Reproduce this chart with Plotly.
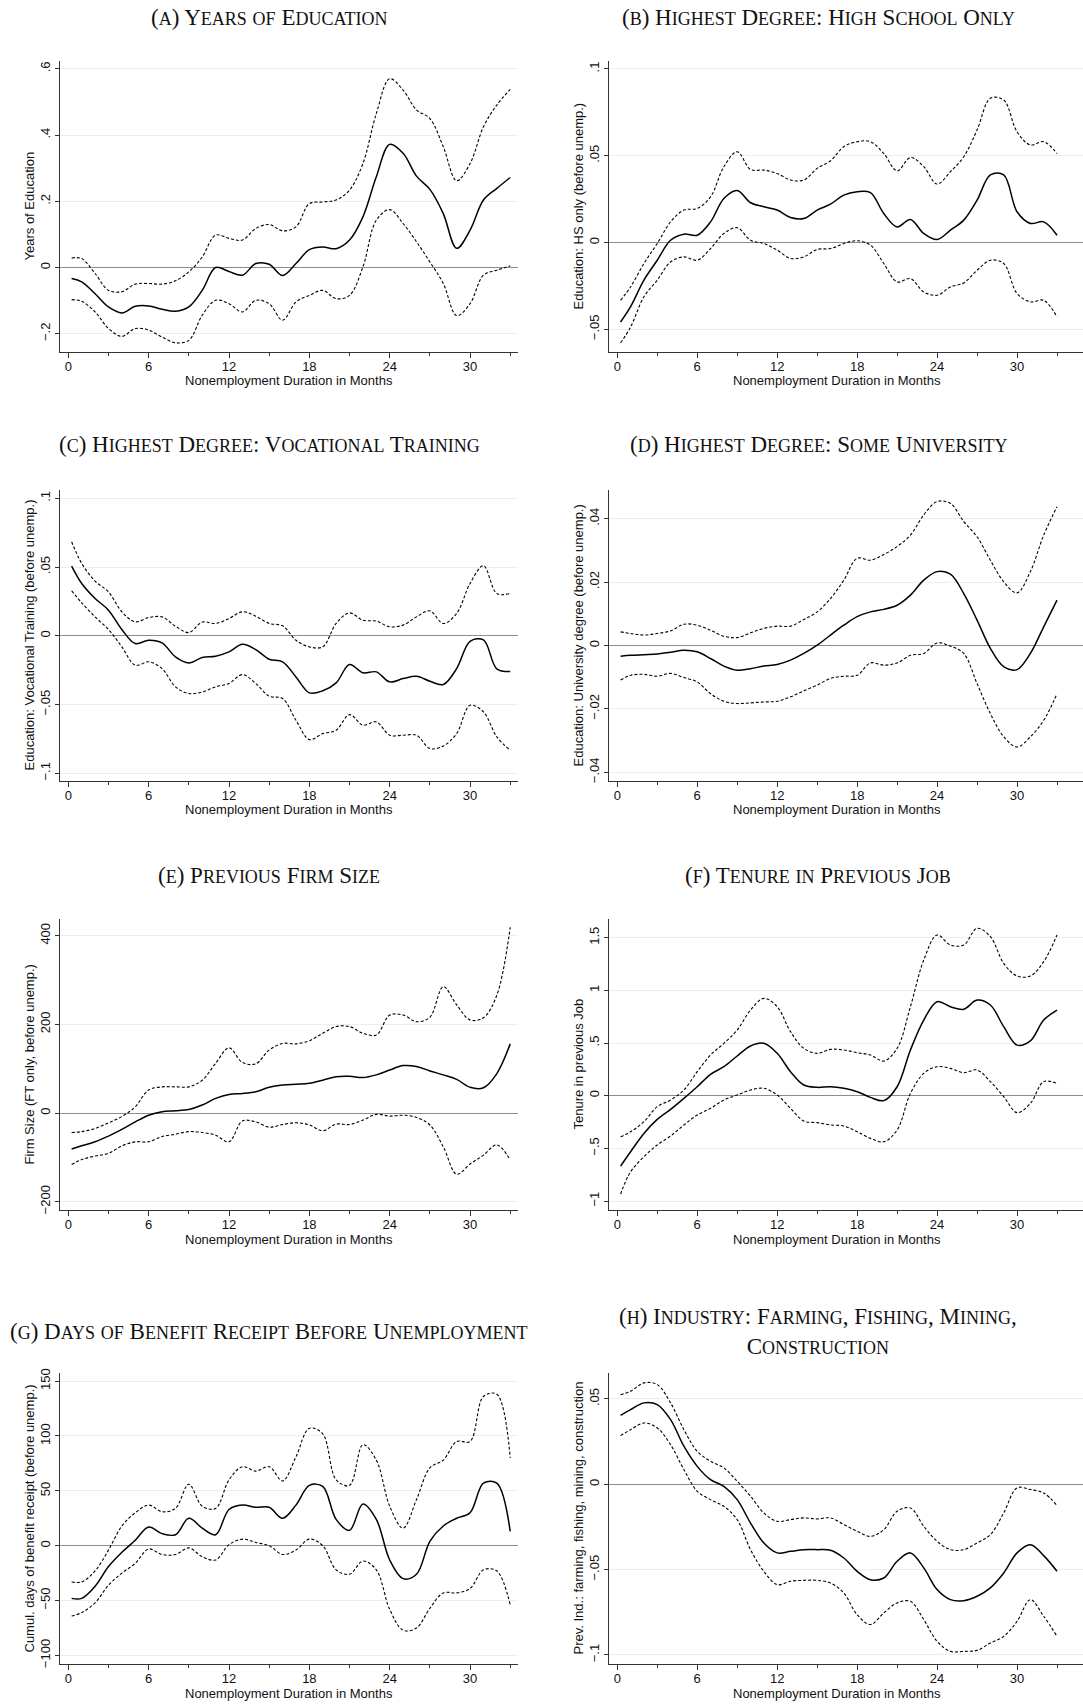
import plotly.graph_objects as go

# months at which the smoothed estimates are read
MONTHS = [0.25, 1, 2, 3, 4, 5, 6, 7, 8, 9, 10, 11, 12, 13, 14, 15, 16, 17,
          18, 19, 20, 21, 22, 23, 24, 25, 26, 27, 28, 29, 30, 31, 32, 33]
X_TICKS = [0, 6, 12, 18, 24, 30]

# (a) years of education
A_EST = [-0.033, -0.043, -0.079, -0.119, -0.137, -0.117, -0.116, -0.126, -0.132, -0.119, -0.069, 0.000,
         -0.012, -0.023, 0.012, 0.010, -0.024, 0.012, 0.054, 0.062, 0.057, 0.083, 0.153, 0.274, 0.372,
         0.345, 0.276, 0.236, 0.163, 0.058, 0.113, 0.204, 0.239, 0.272]
A_UP = [0.029, 0.027, -0.018, -0.069, -0.073, -0.050, -0.048, -0.050, -0.040, -0.013, 0.032, 0.098,
        0.088, 0.083, 0.118, 0.130, 0.111, 0.123, 0.193, 0.198, 0.204, 0.234, 0.314, 0.465, 0.570,
        0.536, 0.476, 0.450, 0.365, 0.262, 0.314, 0.425, 0.491, 0.538]
A_LO = [-0.097, -0.102, -0.134, -0.184, -0.208, -0.184, -0.189, -0.210, -0.227, -0.220, -0.144, -0.099,
        -0.109, -0.134, -0.099, -0.109, -0.159, -0.104, -0.084, -0.069, -0.094, -0.084, 0.002, 0.143,
        0.175, 0.133, 0.078, 0.017, -0.048, -0.145, -0.109, -0.023, -0.008, 0.005]

# (b) high school only
B_EST = [-0.0458, -0.037, -0.0217, -0.0102, 0.0013, 0.0048, 0.0042, 0.0119, 0.0254, 0.030, 0.0229, 0.0206,
         0.0187, 0.0144, 0.0138, 0.0187, 0.0221, 0.0273, 0.0292, 0.0287, 0.0167, 0.009, 0.0133, 0.0052,
         0.0017, 0.0071, 0.0129, 0.0244, 0.039, 0.039, 0.0177, 0.011, 0.0119, 0.0042]
B_UP = [-0.0333, -0.0256, -0.0121, -0.0006, 0.0119, 0.0187, 0.0196, 0.0263, 0.0437, 0.0523, 0.0421, 0.0417,
        0.0398, 0.036, 0.036, 0.0427, 0.0471, 0.0552, 0.0581, 0.0581, 0.0513, 0.0413, 0.049, 0.0437,
        0.0337, 0.0408, 0.0494, 0.0648, 0.0831, 0.0821, 0.0638, 0.0562, 0.0581, 0.0513]
B_LO = [-0.0579, -0.0487, -0.0313, -0.0217, -0.0112, -0.0083, -0.0102, -0.0035, 0.0052, 0.0085, 0.0013,
        -0.0006, -0.0044, -0.0092, -0.0083, -0.004, -0.0035, -0.0006, 0.001, -0.0015, -0.0121, -0.0227,
        -0.0208, -0.0285, -0.0304, -0.0256, -0.0233, -0.016, -0.0102, -0.0121, -0.0294, -0.0342, -0.0333,
        -0.0429]

# (c) vocational training
C_EST = [0.0507, 0.0381, 0.0272, 0.0187, 0.0046, -0.0056, -0.0032, -0.0051, -0.0153, -0.0197, -0.0158,
         -0.0148, -0.0117, -0.0061, -0.01, -0.017, -0.0189, -0.0299, -0.0415, -0.04, -0.0342, -0.0209,
         -0.0269, -0.0262, -0.0335, -0.0311, -0.0294, -0.033, -0.0354, -0.0238, -0.004, -0.003, -0.024,
         -0.026]
C_UP = [0.0684, 0.0527, 0.0398, 0.032, 0.0175, 0.0102, 0.0133, 0.0138, 0.007, 0.0024, 0.01, 0.009, 0.0126,
        0.0175, 0.0143, 0.009, 0.0073, -0.0032, -0.008, -0.008, 0.009, 0.0167, 0.0114, 0.0107, 0.0066,
        0.0078, 0.0138, 0.0182, 0.009, 0.0163, 0.0381, 0.051, 0.0308, 0.0308]
C_LO = [0.0328, 0.024, 0.0138, 0.0046, -0.008, -0.0214, -0.0189, -0.0238, -0.0371, -0.042, -0.0408,
        -0.0371, -0.0347, -0.0282, -0.0347, -0.0439, -0.0456, -0.0614, -0.0755, -0.0711, -0.0687, -0.0573,
        -0.065, -0.0626, -0.0723, -0.0723, -0.0723, -0.082, -0.0801, -0.0711, -0.0505, -0.0553, -0.0735,
        -0.0833]

# (d) some university
D_EST = [-0.0034, -0.0031, -0.0029, -0.0027, -0.0021, -0.0015, -0.002, -0.0041, -0.0065, -0.0078, -0.0073,
         -0.0065, -0.006, -0.0046, -0.0025, 0.0001, 0.0033, 0.0064, 0.0091, 0.0106, 0.0114, 0.0127, 0.0159,
         0.0206, 0.0233, 0.0225, 0.0164, 0.008, -0.0009, -0.0067, -0.0076, -0.0025, 0.0059, 0.0143]
D_UP = [0.0043, 0.0038, 0.0033, 0.0038, 0.0046, 0.0067, 0.0064, 0.0048, 0.0029, 0.0025, 0.004, 0.0054,
        0.0061, 0.0061, 0.0082, 0.0106, 0.0148, 0.0206, 0.0275, 0.0269, 0.0287, 0.0312, 0.0348, 0.0412,
        0.0454, 0.0448, 0.0391, 0.0343, 0.0269, 0.0201, 0.0166, 0.0233, 0.0348, 0.0438]
D_LO = [-0.0109, -0.0094, -0.0091, -0.0097, -0.0088, -0.0101, -0.0115, -0.0152, -0.0176, -0.0183, -0.0181,
        -0.0178, -0.0176, -0.0162, -0.0143, -0.0125, -0.0104, -0.0097, -0.0094, -0.0055, -0.0062, -0.0055,
        -0.0031, -0.0025, 0.0008, -0.0002, -0.0025, -0.012, -0.0215, -0.0288, -0.032, -0.0288, -0.0236,
        -0.0152]

# (e) previous firm size
E_EST = [-81, -74, -65, -52, -37, -20, -5, 3, 5, 8, 18, 33, 42, 44, 48, 58, 63, 65, 67, 74, 82, 83, 80,
         86, 97, 107, 105, 95, 86, 76, 58, 57, 89, 156]
E_UP = [-44, -42, -35, -22, -8, 14, 52, 59, 59, 59, 74, 112, 147, 114, 111, 142, 157, 156, 163, 180, 195,
        195, 180, 176, 221, 221, 206, 216, 285, 244, 210, 215, 266, 419]
E_LO = [-116, -105, -97, -91, -74, -65, -65, -53, -48, -42, -44, -50, -65, -18, -20, -32, -26, -22, -27,
        -40, -25, -26, -16, -3, -7, -5, -10, -27, -76, -138, -115, -95, -72, -106]

# (f) tenure in previous job
F_EST = [-0.668, -0.532, -0.358, -0.225, -0.130, -0.025, 0.085, 0.203, 0.275, 0.377, 0.472, 0.497, 0.402,
         0.228, 0.101, 0.079, 0.085, 0.070, 0.038, -0.016, -0.047, 0.085, 0.434, 0.718, 0.892, 0.845,
         0.820, 0.908, 0.861, 0.655, 0.480, 0.520, 0.718, 0.813]
F_UP = [-0.389, -0.342, -0.247, -0.104, -0.041, 0.054, 0.228, 0.386, 0.497, 0.623, 0.813, 0.924, 0.845,
        0.608, 0.449, 0.402, 0.440, 0.434, 0.408, 0.386, 0.329, 0.449, 0.845, 1.288, 1.525, 1.430, 1.430,
        1.589, 1.509, 1.256, 1.136, 1.136, 1.272, 1.525]
F_LO = [-0.934, -0.722, -0.579, -0.468, -0.383, -0.278, -0.184, -0.120, -0.041, 0.006, 0.054, 0.070, 0.006,
        -0.120, -0.241, -0.256, -0.278, -0.288, -0.342, -0.405, -0.437, -0.326, 0.022, 0.212, 0.275, 0.259,
        0.218, 0.244, 0.133, -0.009, -0.161, -0.073, 0.133, 0.117]

# (g) days of benefit receipt
G_EST = [-48, -48, -37, -19, -6, 5, 17, 11, 10, 25, 16, 10, 33, 37, 35, 35, 25, 37, 55, 54, 24, 14, 38,
         24, -13, -30, -26, 4, 18, 25, 30, 57, 57, 13]
G_UP = [-33, -33, -23, -4, 18, 30, 37, 31, 34, 56, 36, 34, 60, 72, 68, 72, 59, 81, 107, 102, 60, 55, 92,
        78, 36, 16, 42, 71, 78, 95, 95, 136, 138, 80]
G_LO = [-64, -61, -52, -36, -25, -16, -3, -8, -8, -2, -10, -13, 1, 6, 3, 0, -8, -4, 6, 0, -22, -26, -14,
        -22, -58, -77, -75, -57, -43, -43, -39, -22, -23, -54]

# (h) farming, fishing, mining, construction
H_EST = [0.0404, 0.0437, 0.0477, 0.0467, 0.0379, 0.0223, 0.0105, 0.0027, -0.0012, -0.009, -0.0227, -0.0344,
         -0.0402, -0.0393, -0.0383, -0.0383, -0.0387, -0.0432, -0.051, -0.0559, -0.0549, -0.0451, -0.0402,
         -0.049, -0.0617, -0.0676, -0.0682, -0.0656, -0.0607, -0.052, -0.0402, -0.0354, -0.0418, -0.051]
H_UP = [0.0525, 0.0545, 0.0594, 0.0584, 0.0477, 0.032, 0.0193, 0.0135, 0.0096, 0.0018, -0.007, -0.0168,
        -0.0217, -0.0207, -0.0197, -0.0203, -0.0197, -0.0236, -0.0275, -0.0305, -0.0266, -0.0158, -0.0139,
        -0.0246, -0.0334, -0.0383, -0.0383, -0.0344, -0.0295, -0.0168, -0.0021, -0.0031, -0.0051, -0.0125]
H_LO = [0.0285, 0.032, 0.0359, 0.033, 0.0232, 0.0086, -0.0041, -0.009, -0.0129, -0.0207, -0.0383, -0.051,
        -0.0588, -0.0568, -0.0563, -0.0563, -0.0578, -0.0637, -0.0764, -0.0822, -0.0754, -0.0695, -0.0686,
        -0.0793, -0.092, -0.0979, -0.0979, -0.0973, -0.093, -0.0891, -0.0803, -0.0676, -0.0773, -0.0891]

TITLES = ["(a) Years of Education", "(b) Highest Degree: High School Only",
          "(c) Highest Degree: Vocational Training", "(d) Highest Degree: Some University",
          "(e) Previous Firm Size", "(f) Tenure in Previous Job",
          "(g) Days of Benefit Receipt Before Unemployment",
          "(h) Industry: Farming, Fishing, Mining,<br>Construction"]
Y_TITLES = ["Years of Education", "Education: HS only (before unemp.)",
            "Education: Vocational Training (before unemp.)", "Education: University degree (before unemp.)",
            "Firm Size (FT only, before unemp.)", "Tenure in previous Job",
            "Cumul. days of benefit receipt (before unemp.)",
            "Prev. Ind.: farming, fishing, mining, construction"]
Y_TICKS = [[-0.2, 0, 0.2, 0.4, 0.6], [-0.05, 0, 0.05, 0.1], [-0.1, -0.05, 0, 0.05, 0.1],
           [-0.04, -0.02, 0, 0.02, 0.04], [-200, 0, 200, 400], [-1, -0.5, 0, 0.5, 1, 1.5],
           [-100, -50, 0, 50, 100, 150], [-0.1, -0.05, 0, 0.05]]
Y_TICKTEXT = [["\u2212.2", "0", ".2", ".4", ".6"], ["\u2212.05", "0", ".05", ".1"],
              ["\u2212.1", "\u2212.05", "0", ".05", ".1"], ["\u2212.04", "\u2212.02", "0", ".02", ".04"],
              ["\u2212200", "0", "200", "400"], ["\u22121", "\u2212.5", "0", ".5", "1", "1.5"],
              ["\u2212100", "\u221250", "0", "50", "100", "150"], ["\u2212.1", "\u2212.05", "0", ".05"]]
Y_RANGES = [[-0.255, 0.6237], [-0.0631, 0.1046], [-0.1056, 0.1061], [-0.04274, 0.04905],
            [-218.8, 437.7], [-1.085, 1.677], [-107.8, 157.4], [-0.1053, 0.0652]]
SERIES = [(A_EST, A_UP, A_LO), (B_EST, B_UP, B_LO), (C_EST, C_UP, C_LO), (D_EST, D_UP, D_LO),
          (E_EST, E_UP, E_LO), (F_EST, F_UP, F_LO), (G_EST, G_UP, G_LO), (H_EST, H_UP, H_LO)]

W, H = 1083, 1704
# pixel frame of each row: (top, bottom, panel-title y)
ROWS = [(61, 352, 17), (490, 781, 445), (919, 1210, 875), (1373, 1664, 1331)]
# columns: (axis left, axis right, x range, title centre, y-title x, x-title centre)
COLS = [(60, 518, [-0.62, 33.58], 269, 29, 289), (609, 1083, [-0.62, 34.95], 818, 578, 837)]

SANS = "Liberation Sans, Arial, sans-serif"
SERIF = "Liberation Serif, Times New Roman, serif"


def px(p):
    return p / W


def py(p):
    return 1 - p / H


def small_caps(text, small=18):
    out = []
    for line in text.split("<br>"):
        parts, buf = [], ""
        for ch in line:
            if ch.islower():
                buf += ch.upper()
            else:
                if buf:
                    parts.append(f"<span style='font-size:{small}px'>{buf}</span>")
                    buf = ""
                parts.append(ch)
        if buf:
            parts.append(f"<span style='font-size:{small}px'>{buf}</span>")
        out.append("".join(parts))
    return "<br>".join(out)


fig = go.Figure()
annotations = []
layout = {}
for i in range(8):
    row, col = ROWS[i // 2], COLS[i % 2]
    n = i + 1
    xa, ya = f"x{n}", f"y{n}"
    est, up, lo = SERIES[i]
    for vals, dash, width in ((up, "3px,2px", 1.1), (lo, "3px,2px", 1.1), (est, "solid", 1.5)):
        fig.add_trace(go.Scatter(
            x=MONTHS, y=vals, xaxis=xa, yaxis=ya, mode="lines",
            line=dict(color="black", width=width, dash=dash, shape="spline", smoothing=1.0),
            showlegend=False, hoverinfo="skip"))

    top, bot, ty = row
    left, right, xrange, tcx, ytx, xtx = col
    layout[f"xaxis{n}"] = dict(
        domain=[px(left), px(right)], range=xrange, anchor=ya, automargin=False,
        tickvals=X_TICKS, ticks="outside", ticklen=5, tickcolor="#333", ticklabelstandoff=-3,
        minor=dict(dtick=3, tick0=0, ticks="outside", ticklen=3, tickcolor="#333"),
        showline=True, linecolor="#333", linewidth=1, showgrid=False, zeroline=False,
        tickfont=dict(family=SANS, size=13, color="#111"))
    layout[f"yaxis{n}"] = dict(
        domain=[py(bot), py(top)], range=Y_RANGES[i], anchor=xa, automargin=False,
        tickvals=Y_TICKS[i], ticktext=Y_TICKTEXT[i], tickangle=-90,
        ticks="outside", ticklen=4, tickcolor="#333",
        showline=True, linecolor="#333", linewidth=1,
        showgrid=True, gridcolor="#e8f0f1", gridwidth=1,
        zeroline=True, zerolinecolor="#8c8c8c", zerolinewidth=1,
        tickfont=dict(family=SANS, size=13, color="#111"))

    annotations.append(dict(
        text=small_caps(TITLES[i]), x=px(tcx), y=py(ty), xref="paper", yref="paper",
        xanchor="center", yanchor="middle", showarrow=False,
        font=dict(family=SERIF, size=23, color="#111")))
    annotations.append(dict(
        text=Y_TITLES[i], x=px(ytx), y=py((top + bot) / 2), xref="paper", yref="paper",
        xanchor="center", yanchor="middle", textangle=-90, showarrow=False,
        font=dict(family=SANS, size=13, color="#111")))
    annotations.append(dict(
        text="Nonemployment Duration in Months", x=px(xtx),
        y=py(bot + 29), xref="paper", yref="paper", xanchor="center", yanchor="middle",
        showarrow=False, font=dict(family=SANS, size=13, color="#111")))

fig.update_layout(
    width=W, height=H, margin=dict(l=0, r=0, t=0, b=0, autoexpand=False),
    paper_bgcolor="white", plot_bgcolor="white", hovermode=False,
    annotations=annotations, **layout)

# drop the page's default body margin so the figure fills the window exactly
fig.write_html("out.html", config={"displayModeBar": False},
               post_script="document.body.style.margin = '0';")
